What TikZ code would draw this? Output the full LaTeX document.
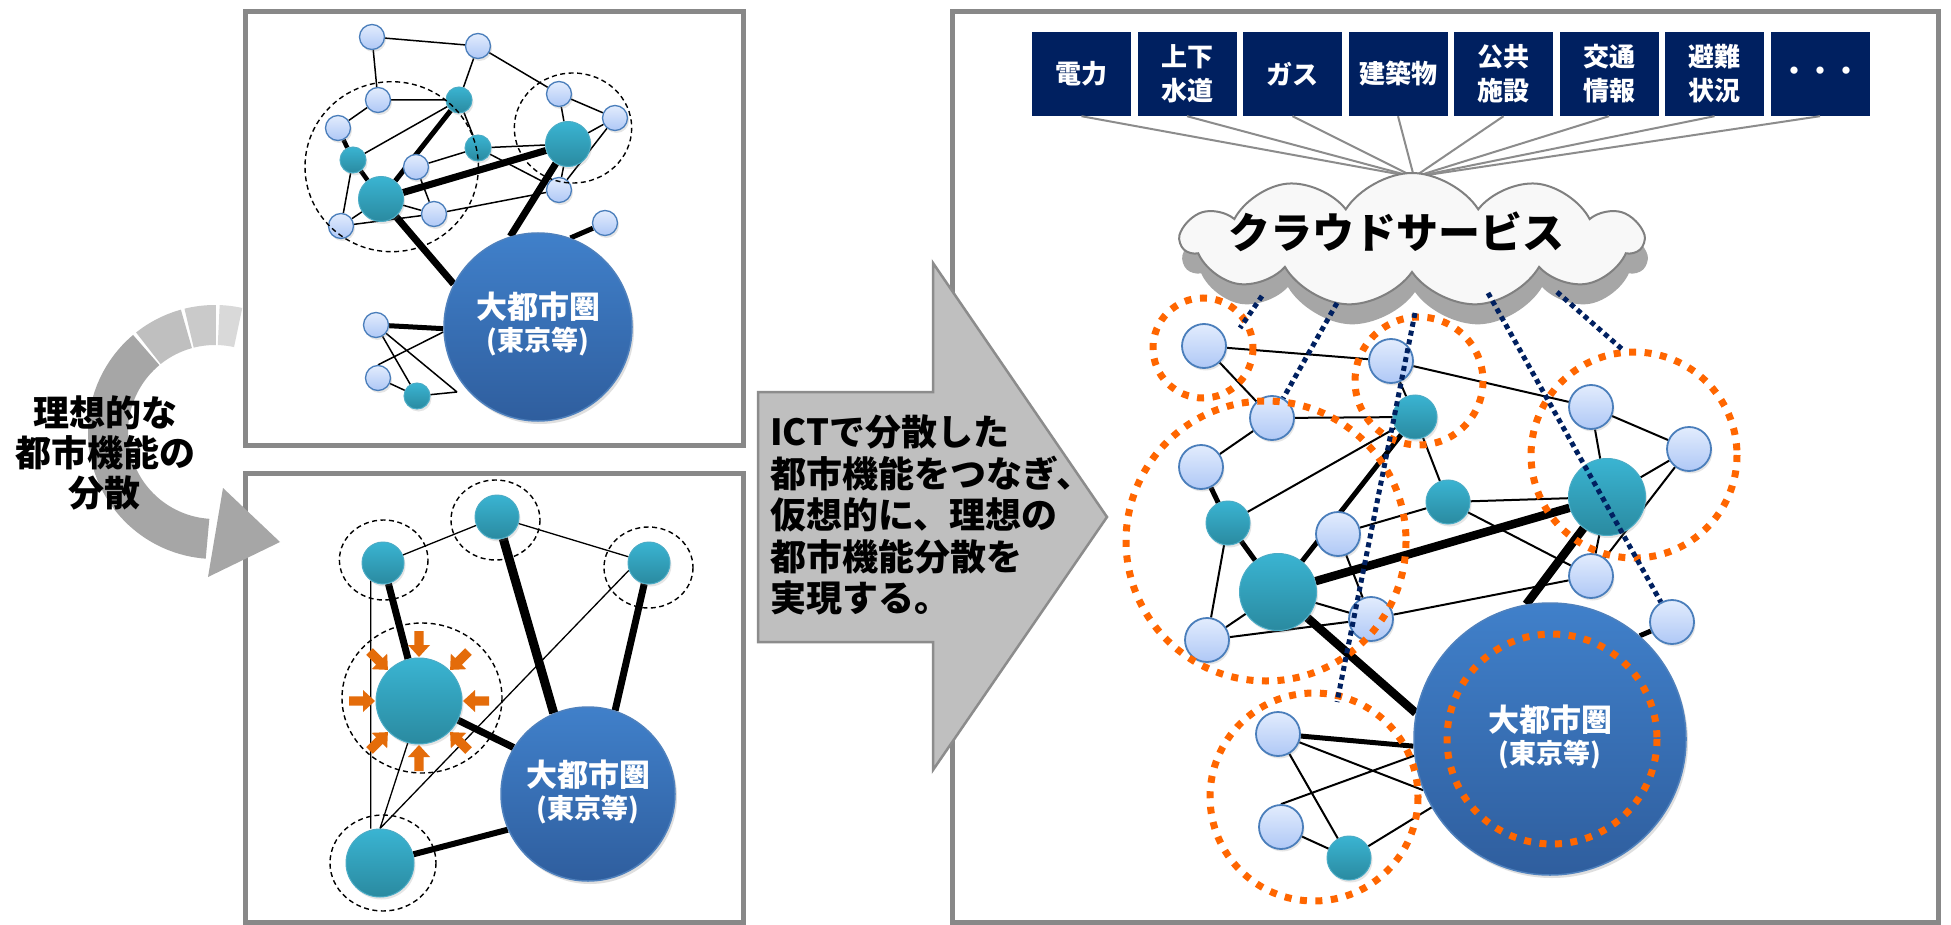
\documentclass[tikz,border=0pt]{standalone}
\usepackage{fontspec}
\newfontfamily\jp{Noto Sans CJK JP}
\usetikzlibrary{shapes.symbols,shadows,calc}
\pgfdeclarelayer{back}
\pgfdeclarelayer{edges}
\pgfsetlayers{back,edges,main}
\definecolor{frameg}{HTML}{888888}
\definecolor{navy}{HTML}{002060}
\definecolor{dorange}{HTML}{FF6600}
\definecolor{aorange}{HTML}{E46C0A}
\definecolor{lnodetop}{HTML}{E2ECFD}
\definecolor{lnodebot}{HTML}{AFC8F6}
\definecolor{lnodeborder}{HTML}{4A7EBB}
\definecolor{tealtop}{HTML}{3AB4D2}
\definecolor{tealbot}{HTML}{2A8AA0}
\definecolor{tealborder}{HTML}{4BACC6}
\definecolor{bigtop}{HTML}{4080CA}
\definecolor{bigbot}{HTML}{2F5E9E}
\definecolor{bigborder}{HTML}{4F81BD}
\definecolor{bandA}{HTML}{A6A6A6}
\definecolor{bandB}{HTML}{BFBFBF}
\definecolor{bandC}{HTML}{CACACA}
\definecolor{bandD}{HTML}{D9D9D9}
\definecolor{arrowfill}{HTML}{BFBFBF}
\definecolor{arrowedge}{HTML}{8C8C8C}
\definecolor{cloudfill}{HTML}{F8F8F8}
\definecolor{cloudedge}{HTML}{808080}
\definecolor{cloudshadow}{HTML}{A6A6A6}
\newcommand\fs[2]{\fontsize{#1}{#2}\selectfont}
\begin{document}
\begin{tikzpicture}[x=1pt,y=-1pt,
  frame/.style={draw=frameg,line width=5pt},
  nshadow/.style={drop shadow={opacity=0.2,shadow xshift=1.5pt,shadow yshift=-2.5pt}},
  lnode/.style={circle,inner sep=0pt,minimum size=#1,top color=lnodetop,bottom color=lnodebot,draw=lnodeborder,line width=1.8pt,nshadow},
  lnode/.default=44pt,
  snode/.style={lnode=25pt,line width=1.3pt},
  tnode/.style={circle,inner sep=0pt,minimum size=#1,top color=tealtop,bottom color=tealbot,draw=tealborder,line width=1pt,nshadow},
  tnode/.default=44pt,
  bignode/.style={circle,inner sep=0pt,minimum size=#1,top color=bigtop,bottom color=bigbot,draw=bigborder,line width=1.5pt,drop shadow={opacity=0.25,shadow xshift=2pt,shadow yshift=-3pt}},
  bigtitle/.style={text=white,font=\jp\bfseries\fs{31}{31},inner sep=0pt},
  bigsub/.style={text=white,font=\jp\bfseries\fs{27}{27},inner sep=0pt},
  thinA/.style={line width=1.5pt},
  medA/.style={line width=4.5pt},
  thickA/.style={line width=7pt},
  thinC/.style={line width=2pt},
  medC/.style={line width=5pt},
  thickC/.style={line width=8.5pt},
  bdash/.style={dash pattern=on 5pt off 3.5pt,line width=1.4pt},
  odot/.style={draw=dorange,dash pattern=on 7pt off 8.5pt,line width=7pt},
  ndot/.style={draw=navy,dash pattern=on 5pt off 4pt,line width=5pt},
  catbox/.style={rectangle,fill=navy,minimum width=99pt,minimum height=84pt,inner sep=0pt,text=white,font=\jp\bfseries\fs{26}{34},align=center},
  cline/.style={draw=arrowedge,line width=2pt},
  cloudshape/.style={cloud,cloud puffs=11,cloud puff arc=115,aspect=3.44,minimum width=461pt,minimum height=134pt,inner sep=0pt}
]
\begin{pgfonlayer}{back}
\fill[white] (0,0) rectangle (1951,925);
% ---------- frames ----------
\draw[frame] (245,12) rectangle (743,445);
\draw[frame] (245,473) rectangle (743,922);
\draw[frame] (952,12) rectangle (1938,922);
\end{pgfonlayer}
\useasboundingbox (0,0) rectangle (1951,925);

% ---------- left curved arrow ----------
\draw[line width=40pt,bandA] plot[domain=-266:-130,samples=60] ({215+107*cos(\x)},{432+107*sin(\x)});
\draw[line width=40pt,bandB] plot[domain=-128.5:-105.5,samples=20] ({215+107*cos(\x)},{432+107*sin(\x)});
\draw[line width=40pt,bandC] plot[domain=-104:-89.5,samples=15] ({215+107*cos(\x)},{432+107*sin(\x)});
\draw[line width=40pt,bandD] plot[domain=-88:-77.5,samples=10] ({215+107*cos(\x)},{432+107*sin(\x)});
\fill[bandA] (223,488) -- (280,542) -- (208,577) -- cycle;
\node[font=\jp\bfseries\fs{36}{40},align=center] (lefttext) at (105,453) {理想的な\\都市機能の\\分散};

% ---------- top-left panel ----------
\node[snode] (a1) at (372,37) {};
\node[snode] (a2) at (478,46) {};
\node[snode] (a3) at (378,100) {};
\node[snode] (a4) at (338,128) {};
\node[snode] (a5) at (559,94) {};
\node[snode] (a6) at (615,118) {};
\node[snode] (a7) at (416,167) {};
\node[snode] (a8) at (559,190) {};
\node[snode] (a9) at (434,214) {};
\node[snode] (a10) at (341,226) {};
\node[snode] (a11) at (605,223) {};
\node[snode] (a12) at (376,325) {};
\node[snode] (a13) at (378,378) {};
\node[tnode=26pt] (at1) at (459,100) {};
\node[tnode=26pt] (at2) at (353,160) {};
\node[tnode=26pt] (at3) at (478,148) {};
\node[tnode=45pt] (at4) at (381,199) {};
\node[tnode=45pt] (at5) at (568,144) {};
\node[tnode=26pt] (at6) at (417,396) {};
\node[bignode=188pt] (abig) at (538,327) {};
\coordinate (ac1) at (457,392);
\begin{pgfonlayer}{edges}
\draw[thinA] (a1) -- (a2) (a1) -- (a3) (a2) -- (at1) (a2) -- (a5) (a3) -- (at1) (a3) -- (a4)
  (at2) -- (a10) (at2) -- (at1) (at1) -- (at3) (at3) -- (a7) (at3) -- (at5) (at3) -- (a8)
  (at4) -- (a9) (at4) -- (a10) (a7) -- (a9) (a10) -- (a9) (a9) -- (a8) (a5) -- (a6)
  (a5) -- (at5) (a6) -- (at5) (a6) -- (a8) (at5) -- (a8) (a12) -- (at6) (a12) -- (ac1)
  (ac1) -- (at6) (a13.north) -- (abig.183) (a13) -- (at6);
\draw[medA] (a4) -- (at2) (at2) -- (at4);
\draw[line width=5pt] (at1) -- (at4) (a11) -- (abig.70) (a12) -- (abig.181);
\draw[thickA] (at4) -- (at5) (at5) -- (abig.107) (at4) -- (abig.153);
\end{pgfonlayer}
\node[bigtitle] (atitle) at (538,307) {大都市圏};
\node[bigsub] (asub) at (538,342) {(東京等)};
\draw[bdash] (391.7,166.7) ellipse [x radius=86.7, y radius=85];
\draw[bdash] (573,128) ellipse [x radius=58.7, y radius=55];

% ---------- bottom-left panel ----------
\node[tnode=42pt] (b1) at (383,563) {};
\node[tnode=44pt] (b2) at (497,517) {};
\node[tnode=42pt] (b3) at (649,563) {};
\node[tnode=86pt] (b4) at (419,701) {};
\node[tnode=68pt] (b5) at (380,863) {};
\node[bignode=174pt] (bbig) at (588,794) {};
\begin{pgfonlayer}{edges}
\draw[line width=1.3pt] (b1) -- (b2) (b2) -- (b3) (b3.200) -- (b5.north) (b4.255) -- (b5.north)
  (b1.235) -- (b1.235 |- b5.north);
\draw[line width=7pt] (b1) -- (b4) (b3) -- (bbig.72) (b4) -- (bbig.148);
\draw[line width=9pt] (b2) -- (bbig.113);
\draw[line width=6pt] (b5) -- (bbig.204);
\end{pgfonlayer}
\node[bigtitle] (btitle) at (588,775) {大都市圏};
\node[bigsub] (bsub) at (588,810) {(東京等)};
\draw[bdash] (383.7,560) ellipse [x radius=44.3, y radius=40];
\draw[bdash] (495.5,520) ellipse [x radius=44.5, y radius=40];
\draw[bdash] (648.5,567.5) ellipse [x radius=44.5, y radius=40.5];
\draw[bdash] (422,698) ellipse [x radius=80, y radius=75];
\draw[bdash] (383,863) ellipse [x radius=53, y radius=48];
\foreach \a in {0,45,...,315}
  \fill[aorange,shift={(b4.center)},rotate=\a] (70,-4.7) -- (56,-4.7) -- (56,-11) -- (44,0) -- (56,11) -- (56,4.7) -- (70,4.7) -- cycle;

% ---------- middle arrow ----------
\draw[fill=arrowfill,draw=arrowedge,line width=2.5pt,line join=miter] (758,392) -- (933,392) -- (933,263) -- (1107,517) -- (933,770) -- (933,642) -- (758,642) -- cycle;
\node[font=\jp\bfseries\fs{36}{41.5},align=left,anchor=west,inner sep=0pt] (midtext) at (770,515) {ICTで分散した\\都市機能をつなぎ、\\仮想的に、理想の\\都市機能分散を\\実現する。};

% ---------- right panel: categories and cloud ----------
\coordinate (cloudtop) at (1414,177);
\foreach \t [count=\i] in {電力,{上下\\水道},ガス,建築物,{公共\\施設},{交通\\情報},{避難\\状況},・・・}
  {\node[catbox] (box\i) at ({1081.5+105.5*(\i-1)},74) {\t};
   \draw[cline] (box\i.south) -- (cloudtop);}
\node[cloudshape,fill=cloudshadow] (cloudsh) at (1415,260) {};
\node[cloudshape,fill=cloudfill,draw=cloudedge,line width=2pt] (cloud) at (1412,240) {};
\node[font=\jp\bfseries\fs{42}{42},inner sep=0pt] (cloudtext) at (1396,232) {クラウドサービス};

% ---------- right panel network ----------
\node[lnode] (c1) at (1204,346) {};
\node[lnode] (c2) at (1391,361) {};
\node[lnode] (c3) at (1272,418) {};
\node[lnode] (c4) at (1591,407) {};
\node[lnode] (c5) at (1689,449) {};
\node[lnode] (c6) at (1201,467) {};
\node[lnode] (c7) at (1338,534) {};
\node[lnode] (c8) at (1591,576) {};
\node[lnode] (c9) at (1371,619) {};
\node[lnode] (c10) at (1207,640) {};
\node[lnode] (c11) at (1672,622) {};
\node[lnode] (c12) at (1278,734) {};
\node[lnode] (c13) at (1281,827) {};
\node[tnode] (ct1) at (1415,417) {};
\node[tnode] (ct2) at (1228,523) {};
\node[tnode] (ct3) at (1448,502) {};
\node[tnode=77pt] (ct4) at (1278,592) {};
\node[tnode=77pt] (ct5) at (1607,497) {};
\node[tnode] (ct6) at (1349,858) {};
\node[bignode=272pt] (cbig) at (1550,739) {};
\begin{pgfonlayer}{edges}
\draw[thinC] (c1) -- (c2) (c1) -- (c3) (c3) -- (c6) (c3) -- (ct1) (c2) -- (ct1) (c2) -- (c4)
  (ct1) -- (ct2) (ct1) -- (ct3) (ct3) -- (c7) (ct3) -- (ct5) (ct3) -- (c8) (c4) -- (c5)
  (c4) -- (ct5) (c5) -- (ct5) (c5) -- (c8) (ct5) -- (c8) (ct2) -- (c10) (c10) -- (ct4)
  (c10) -- (c9) (ct4) -- (c9) (c7) -- (c9) (c9) -- (c8) (c12) -- (cbig.202) (c12) -- (ct6)
  (c13.north) -- (cbig.187) (c13) -- (ct6) (ct6) -- (cbig.210);
\draw[medC] (c6) -- (ct2) (ct2) -- (ct4) (ct1) -- (ct4) (c12) -- (cbig.183) (c11) -- (cbig.49);
\draw[thickC] (ct4) -- (ct5) (ct5) -- (cbig.100) (ct4) -- (cbig.169);
\end{pgfonlayer}
\node[bigtitle] (ctitle) at (1550,720) {大都市圏};
\node[bigsub] (csub) at (1550,755) {(東京等)};

% orange dotted groups
\draw[odot] (1203,348) circle [radius=50];
\draw[odot] (1419,381) circle [radius=64];
\draw[odot] (1266,541) circle [radius=140];
\draw[odot] (1634,455) circle [radius=103];
\draw[odot] (1314,797) circle [radius=104];
\draw[odot] (1552,739) circle [radius=105];

% navy dotted links to cloud
\coordinate (d1s) at (1262,296); \coordinate (d1e) at (1240,328);
\coordinate (d2s) at (1337,303);
\coordinate (d3s) at (1415,313); \coordinate (d3e) at (1337,702);
\coordinate (d4s) at (1488,293);
\coordinate (d5s) at (1557,292); \coordinate (d5e) at (1623,350);
\draw[ndot] (d1s) -- (d1e);
\draw[ndot] (d2s) -- (c3);
\draw[ndot] (d3s) -- (d3e);
\draw[ndot] (d4s) -- (c11);
\draw[ndot] (d5s) -- (d5e);
\end{tikzpicture}
\end{document}
